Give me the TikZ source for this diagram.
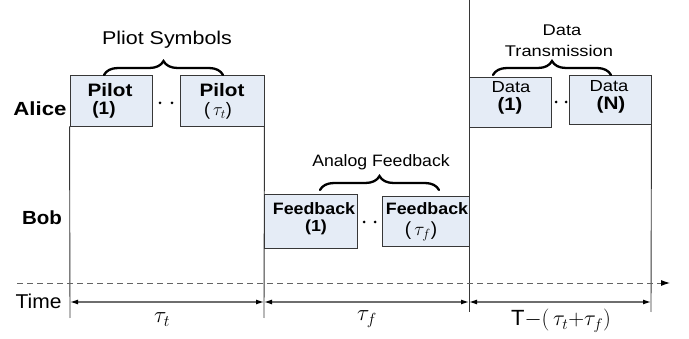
\RequirePackage{fix-cm}
\documentclass[tikz,border=0pt]{standalone}
\usepackage{graphicx}
\usepackage{fontspec}
\setmainfont{Liberation Sans}
\usetikzlibrary{arrows.meta,decorations.pathreplacing}
\newcommand{\hs}[2]{\scalebox{#1}[1]{#2}}
\newcommand{\fs}[1]{\fontsize{#1}{#1}\selectfont}
\definecolor{boxfill}{RGB}{229,236,246}
\definecolor{linegray}{RGB}{55,55,55}
\definecolor{dashgray}{RGB}{100,100,100}
\definecolor{arrgray}{RGB}{110,110,110}
\begin{document}
\begin{tikzpicture}[x=1pt,y=-1pt,
  box/.style={draw=linegray, fill=boxfill, line width=0.9pt, inner sep=0pt},
  lbl/.style={inner sep=0pt, anchor=base},
  vline/.style={draw=linegray, line width=0.9pt},
  brc/.style={decorate, decoration={brace, amplitude=14pt}, line width=2.3pt, line cap=round},
  tarrow/.style={draw=arrgray, line width=1.2pt, {Latex[length=8pt,width=5pt,fill=black,color=black]}-{Latex[length=8pt,width=5pt,fill=black,color=black]}},
  dotsty/.style={circle, fill=black, inner sep=0pt, minimum size=3pt}]
\useasboundingbox (0,0) rectangle (689,339);

% boxes
\node[box, minimum width=82pt, minimum height=51pt] (p1) at (111,100.5) {};
\node[box, minimum width=84pt, minimum height=51pt] (p2) at (222,100.5) {};
\node[box, minimum width=93pt, minimum height=54pt] (f1) at (310.5,221) {};
\node[box, minimum width=87pt, minimum height=50pt] (f2) at (425.5,221) {};
\node[box, minimum width=82pt, minimum height=50pt] (d1) at (510,102) {};
\node[box, minimum width=82pt, minimum height=49pt] (d2) at (610,99.5) {};

% box texts
\node[lbl, font=\bfseries\fs{18}] (p1a) at (110,97) {\hs{1.15}{Pilot}};
\node[lbl, font=\bfseries\fs{18}] (p1b) at (104,115) {\hs{1.05}{(1)}};
\node[lbl, font=\bfseries\fs{18}] (p2a) at (222,97) {\hs{1.15}{Pilot}};
\node[lbl, font=\fs{18}] (p2b) at (218,115.5) {(\,$\tau_t$)};
\node[lbl, font=\bfseries\fs{16.5}] (f1a) at (314,215) {\hs{1.08}{Feedback}};
\node[lbl, font=\bfseries\fs{16}] (f1b) at (316,232) {\hs{1.12}{(1)}};
\node[lbl, font=\bfseries\fs{16.5}] (f2a) at (427,215) {\hs{1.08}{Feedback}};
\node[lbl, font=\fs{19}] (f2b) at (421,236) {(\,$\tau_f$)};
\node[lbl, font=\fs{16}] (d1a) at (511,93) {\hs{1.15}{Data}};
\node[lbl, font=\bfseries\fs{18}] (d1b) at (510,111) {\hs{1.12}{(1)}};
\node[lbl, font=\fs{16}] (d2a) at (609,92) {\hs{1.15}{Data}};
\node[lbl, font=\bfseries\fs{18}] (d2b) at (611,110) {\hs{1.15}{(N)}};

% dots
\node[dotsty] (pd1) at (160,103) {};
\node[dotsty] (pd2) at (172,103) {};
\node[dotsty] (fd1) at (364,222) {};
\node[dotsty] (fd2) at (375,222) {};
\node[dotsty] (dd1) at (556,102) {};
\node[dotsty] (dd2) at (566,102) {};

% braces
\coordinate (bp1) at (104,75);
\coordinate (bp2) at (223,75);
\coordinate (bf1) at (320,190);
\coordinate (bf2) at (439,190);
\coordinate (bd1) at (493,75);
\coordinate (bd2) at (611,75);
\draw[brc] (bp1) -- (bp2);
\draw[brc] (bf1) -- (bf2);
\draw[brc] (bd1) -- (bd2);

% brace labels
\node[lbl, font=\fs{18.5}] (ps) at (167,45) {\hs{1.16}{Pliot Symbols}};
\node[lbl, font=\fs{16.5}] (af) at (381,167) {\hs{1.07}{Analog Feedback}};
\node[lbl, font=\fs{15.5}] (dt1) at (562,36) {\hs{1.18}{Data}};
\node[lbl, font=\fs{15.5}] (dt2) at (559,57) {\hs{1.18}{Transmission}};

% side labels
\node[lbl, font=\bfseries\fs{19}] (alice) at (40,116) {\hs{1.17}{Alice}};
\node[lbl, font=\bfseries\fs{19}] (bob) at (42,225) {\hs{1.08}{Bob}};
\node[lbl, font=\fs{20}] (time) at (38.5,309) {\hs{1.05}{Time}};

% vertical lines
\coordinate (v1b) at (70,318);
\coordinate (v2b) at (264,318);
\coordinate (v3t) at (469,0);
\coordinate (v3b) at (469,312);
\coordinate (v4b) at (651,312);
\draw[vline] (p1.south west) -- (v1b);
\draw[vline] (p2.south east) -- (v2b);
\draw[vline] (v3t) -- (v3b);
\draw[vline] (d2.south east) -- (v4b);

% dashed time axis
\coordinate (ax0) at (17,283);
\coordinate (ax1) at (670,283);
\draw[draw=dashgray, line width=0.9pt, dash pattern=on 6pt off 4pt, -{Latex[length=9pt,width=6pt,color=black,fill=black]}] (ax0) -- (ax1);

% interval arrows
\coordinate (t0) at (70,302);
\coordinate (t1) at (264,302);
\coordinate (t2) at (469,302);
\coordinate (t3) at (651,302);
\draw[tarrow] (t0) -- (t1);
\draw[tarrow] (t1) -- (t2);
\draw[tarrow] (t2) -- (t3);

% interval labels
\node[lbl, font=\fs{23}] (lt) at (162,323) {$\tau_t$};
\node[lbl, font=\fs{23}] (lf) at (367,321) {$\tau_f$};
\node[lbl, font=\fs{22}] (lr) at (561,326) {T$-\Bigl(\,\tau_t{+}\tau_f\Bigr)$};
\end{tikzpicture}
\end{document}
